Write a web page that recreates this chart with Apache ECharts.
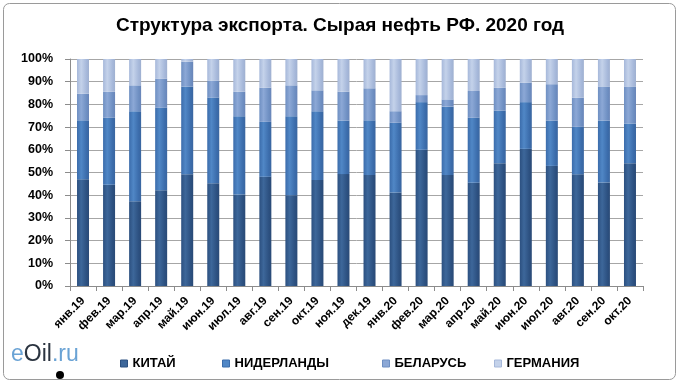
<!DOCTYPE html>
<html><head><meta charset="utf-8">
<script src="https://cdn.jsdelivr.net/npm/echarts@6/dist/echarts.min.js"></script>
<style>html,body{margin:0;padding:0;background:#fff}#c{width:680px;height:384px}</style>
</head><body><div id="c"></div>
<script>
var categories = ['янв.19','фев.19','мар.19','апр.19','май.19','июн.19','июл.19','авг.19','сен.19','окт.19','ноя.19','дек.19','янв.20','фев.20','мар.20','апр.20','май.20','июн.20','июл.20','авг.20','сен.20','окт.20'];
var china       = [47.0,44.6,37.3,42.2,49.2,45.3,40.3,48.1,40.0,46.7,49.3,48.9,41.2,60.0,48.9,45.5,54.1,60.4,52.9,49.2,45.6,54.1];
var netherlands = [26.0,29.5,39.7,36.3,38.7,37.7,34.5,24.2,34.8,30.3,23.6,24.1,30.7,21.0,30.1,28.6,23.2,20.6,20.0,20.9,27.3,17.5];
var belarus     = [11.7,11.5,11.4,12.9,10.9, 7.5,10.8,15.1,13.6, 9.2,12.7,14.1, 5.1, 3.1, 3.2,11.8,10.0, 8.6,16.0,12.9,15.0,16.3];
var germany     = [15.3,14.4,11.6, 8.6, 1.2, 9.5,14.4,12.6,11.6,13.8,14.4,12.9,23.0,15.9,17.8,14.1,12.7,10.4,11.1,17.0,12.1,12.1];
var seriesNames = ['КИТАЙ','НИДЕРЛАНДЫ','БЕЛАРУСЬ','ГЕРМАНИЯ'];
var yTicks = ['0%','10%','20%','30%','40%','50%','60%','70%','80%','90%','100%'];

var baseColors = [
  ['#2c5080','#3d679a','#2a4a76'],
  ['#3b6cab','#5087c6','#3a66a0'],
  ['#6e8fc2','#8ca8d6','#6985b8'],
  ['#a6b8da','#c4d2ea','#9fb0d0']
];
function grad(c){
  return new echarts.graphic.LinearGradient(0,0,1,0,[
    {offset:0,color:c[0]},{offset:0.35,color:c[1]},{offset:0.8,color:c[0]},{offset:1,color:c[2]}
  ]);
}
var dataSets = [china, netherlands, belarus, germany];
var series = seriesNames.map(function(n,i){
  return {name:n,type:'bar',stack:'s',barWidth:12,data:dataSets[i],
    itemStyle:{color:grad(baseColors[i])}};
});
var legendLefts = [115, 217, 377, 489];
var legends = seriesNames.map(function(n,i){
  return {data:[{name:n,itemStyle:{color:baseColors[i][1],borderColor:baseColors[i][0],borderWidth:1}}],
    left:legendLefts[i],top:352,itemWidth:7,itemHeight:7,itemGap:6,icon:'rect',
    textStyle:{fontFamily:'Liberation Sans, Arial',fontWeight:'bold',fontSize:13,color:'#000'}};
});
var chart = echarts.init(document.getElementById('c'));
chart.setOption({
  animation:false,
  backgroundColor:'#fff',
  title:{text:'Структура экспорта. Сырая нефть РФ. 2020 год',left:'center',top:11,
    textStyle:{fontFamily:'Liberation Sans, Arial',fontWeight:'bold',fontSize:19,color:'#000'}},
  legend:legends,
  grid:{left:70,right:37,top:59,bottom:98},
  xAxis:{type:'category',data:categories,
    axisLine:{lineStyle:{color:'#8c8c8c'}},
    axisTick:{show:true,lineStyle:{color:'#8c8c8c'}},
    axisLabel:{rotate:45,fontFamily:'Liberation Sans, Arial',fontWeight:'bold',fontSize:12,color:'#000',margin:13,interval:0}},
  yAxis:{type:'value',min:0,max:100,interval:10,
    axisLine:{show:true,lineStyle:{color:'#8c8c8c'}},
    axisTick:{show:true,length:5,lineStyle:{color:'#8c8c8c'}},
    splitLine:{lineStyle:{color:'#a6a6a6'}},
    axisLabel:{margin:17,fontFamily:'Liberation Sans, Arial',fontWeight:'bold',fontSize:12.5,color:'#000',
      formatter:function(v){return yTicks[Math.round(v/10)];}}},
  series:series,
  graphic:[
    {type:'rect',shape:{x:3.5,y:3.5,width:672,height:376,r:6},style:{fill:'none',stroke:'#9a9a9a',lineWidth:1},silent:true},
    {type:'text',left:11,top:343,style:{
      text:'{a|e}{b|Oil}{a|.ru}',
      rich:{a:{fontFamily:'Liberation Sans, Arial',fontSize:23,fill:'#6aa3d5'},
            b:{fontFamily:'Liberation Sans, Arial',fontSize:23,fill:'#2b3440'}}}},
    {type:'circle',shape:{cx:60,cy:375,r:4},style:{fill:'#000'}}
  ]
});
</script></body></html>
